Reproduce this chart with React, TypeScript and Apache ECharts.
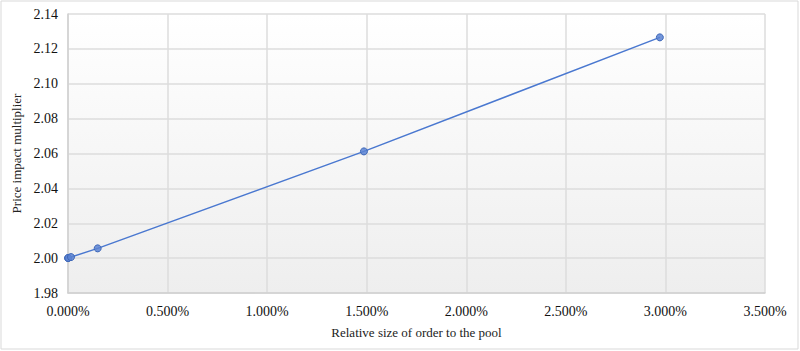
import React, { useEffect, useRef } from "react";
import * as echarts from "echarts";

const orderSizePct = [0.0, 0.0015, 0.015, 0.149, 1.486, 2.972];
const multiplier = [2.0, 2.0001, 2.0006, 2.0056, 2.0612, 2.1266];
const xTicks = { min: 0, max: 3.5, interval: 0.5 };
const yTicks = { min: 1.98, max: 2.14, interval: 0.02 };

export default function App() {
  const ref = useRef<HTMLDivElement>(null);
  useEffect(() => {
    document.body.style.margin = "0";
    const chart = echarts.init(ref.current!, null, { renderer: "svg" });
    const font = "'Liberation Serif', 'Times New Roman', serif";
    chart.setOption({
      animation: false,
      backgroundColor: "#ffffff",
      textStyle: { fontFamily: font },
      graphic: [
        {
          type: "rect",
          shape: { x: 1, y: 1, width: 797, height: 348 },
          style: { fill: "none", stroke: "#d9d9d9", lineWidth: 1 },
          silent: true,
        },
      ],
      grid: {
        left: 68,
        right: 35,
        top: 14,
        bottom: 58,
        show: true,
        borderWidth: 0,
        backgroundColor: new echarts.graphic.LinearGradient(0, 0, 0, 1, [
          { offset: 0, color: "#ffffff" },
          { offset: 1, color: "#eeeeee" },
        ]),
      },
      xAxis: {
        type: "value",
        min: xTicks.min,
        max: xTicks.max,
        interval: xTicks.interval,
        name: "Relative size of order to the pool",
        nameLocation: "middle",
        nameGap: 33,
        nameTextStyle: { fontFamily: font, fontSize: 13, color: "#222" },
        axisLine: { show: true, lineStyle: { color: "#d0d0d0", width: 1.5 } },
        axisTick: { show: false },
        splitLine: { show: true, lineStyle: { color: "#dcdcdc", width: 1.5 } },
        axisLabel: {
          fontFamily: font,
          fontSize: 14,
          color: "#111",
          margin: 11,
          formatter: (v: number) => v.toFixed(3) + "%",
        },
      },
      yAxis: {
        type: "value",
        min: yTicks.min,
        max: yTicks.max,
        interval: yTicks.interval,
        name: "Price impact multiplier",
        nameLocation: "middle",
        nameGap: 44,
        nameTextStyle: { fontFamily: font, fontSize: 13, color: "#222" },
        axisLine: { show: true, lineStyle: { color: "#d0d0d0", width: 1.5 } },
        axisTick: { show: false },
        splitLine: { show: true, lineStyle: { color: "#dcdcdc", width: 1.5 } },
        axisLabel: {
          fontFamily: font,
          fontSize: 14,
          color: "#111",
          margin: 10,
          formatter: (v: number) => v.toFixed(2),
        },
      },
      series: [
        {
          type: "line",
          data: orderSizePct.map((x, i) => [x, multiplier[i]]),
          symbol: "circle",
          symbolSize: 7,
          showAllSymbol: true,
          lineStyle: { color: "#4a78d0", width: 1.5 },
          itemStyle: {
            color: "rgba(90,130,210,0.85)",
            borderColor: "#3f68b8",
            borderWidth: 1,
          },
        },
      ],
    });
    return () => chart.dispose();
  }, []);
  return <div ref={ref} style={{ width: 800, height: 351 }} />;
}
